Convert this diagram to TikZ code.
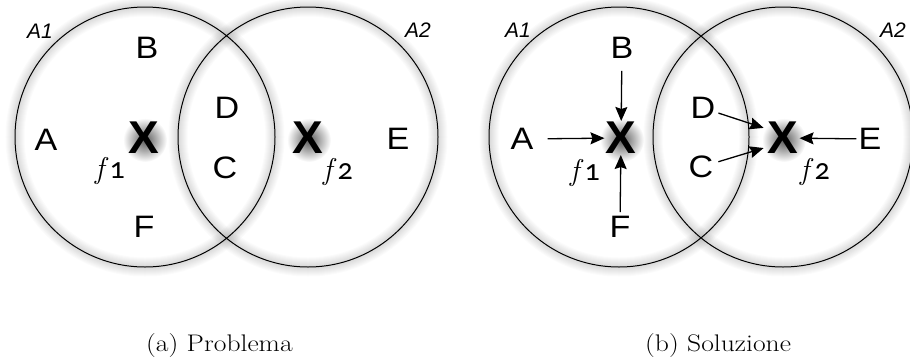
\documentclass[tikz,border=0pt]{standalone}
\usepackage{fontspec}
\usetikzlibrary{arrows.meta}
\newfontfamily\lblfont{Liberation Sans}
\newfontfamily\numfont[Numbers=OldStyle]{Carlito}

\begin{document}
\begin{tikzpicture}[x=1pt, y=-1pt,
    >={Stealth[length=14pt,width=12pt,inset=2pt]},
    letter/.style={font=\lblfont\fontsize{31}{31}\selectfont, inner sep=2pt},
    area/.style={font=\lblfont\itshape\fontsize{21}{21}\selectfont, inner sep=0pt},
    cross/.style={font=\lblfont\bfseries\fontsize{46}{46}\selectfont, inner sep=1pt},
    fac/.style={font=\fontsize{30}{30}\selectfont, inner sep=0pt},
    capt/.style={anchor=base west, font=\fontsize{24}{24}\selectfont, inner sep=0pt},
    flow/.style={->, line width=1.3pt}]
        % --- 1. Parameters ---
        \def\rad{130}
        \useasboundingbox (0,0) rectangle (910,359);

        % --- 2. Shadows under the X ---
        \foreach \cx in {144,308,621,783}
            \shade[inner color=black!65, outer color=white] (\cx+1,140) circle (22);

        % --- 3. Circles with soft glow ---
        \foreach \cx in {145,308,619,783} {
            \foreach \w in {3,5,...,19}
                \draw[line width=\w pt, black, opacity=0.017] (\cx,137) circle (\rad);
            \draw[line width=1pt] (\cx,137) circle (\rad);
        }

        % --- 4. Problema (left) ---
        \node[area] (pA1) at (40,31) {A1};
        \node[area] (pA2) at (418,30) {A2};
        \node[letter] (pA) at (46,140) {\scalebox{1.1}[1]{A}};
        \node[letter] (pB) at (147,48) {\scalebox{1.1}[1]{B}};
        \node[letter] (pC) at (225,168) {\scalebox{1.1}[1]{C}};
        \node[letter] (pD) at (227,108) {\scalebox{1.1}[1]{D}};
        \node[letter] (pE) at (398,139) {\scalebox{1.1}[1]{E}};
        \node[letter] (pF) at (144,227) {\scalebox{1.1}[1]{F}};
        \node[cross] (pX1) at (144,138) {X};
        \node[cross] (pX2) at (308,138) {X};
        \node[fac] (pf1) at (110,171) {\textit{f}\kern1pt{\numfont 1}};
        \node[fac] (pf2) at (338,172) {\textit{f}\kern1pt{\numfont 2}};
        \node[capt] (capa) at (146,351) {\scalebox{1.15}[1]{(a) Problema}};

        % --- 5. Soluzione (right) ---
        \node[area] (sA1) at (518,30) {A1};
        \node[area] (sA2) at (893,30) {A2};
        \node[letter] (sA) at (522,139) {\scalebox{1.1}[1]{A}};
        \node[letter] (sB) at (622,48) {\scalebox{1.1}[1]{B}};
        \node[letter] (sC) at (701,167) {\scalebox{1.1}[1]{C}};
        \node[letter] (sD) at (703,108) {\scalebox{1.1}[1]{D}};
        \node[letter] (sE) at (870,139) {\scalebox{1.1}[1]{E}};
        \node[letter] (sF) at (620,227) {\scalebox{1.1}[1]{F}};
        \node[cross] (sX1) at (621,138) {X};
        \node[cross] (sX2) at (783,138) {X};
        \node[fac] (sf1) at (585,173) {\textit{f}\kern1pt{\numfont 1}};
        \node[fac] (sf2) at (815,172) {\textit{f}\kern1pt{\numfont 2}};
        \node[capt] (capb) at (645,351) {\scalebox{1.15}[1]{(b) Soluzione}};

        % Arrows towards the X
        \draw[flow, shorten <=12pt] (sA) -- (sX1);
        \draw[flow, shorten <=10pt] (sB) -- (sX1);
        \draw[flow, shorten <=2pt] (sF) -- (sX1);
        \draw[flow, shorten <=1pt, shorten >=3pt] (sD) -- (sX2.151);
        \draw[flow, shorten <=3pt, shorten >=3pt] (sC) -- (sX2.209);
        \draw[flow] (sE) -- (sX2);
    \end{tikzpicture}
\end{document}
